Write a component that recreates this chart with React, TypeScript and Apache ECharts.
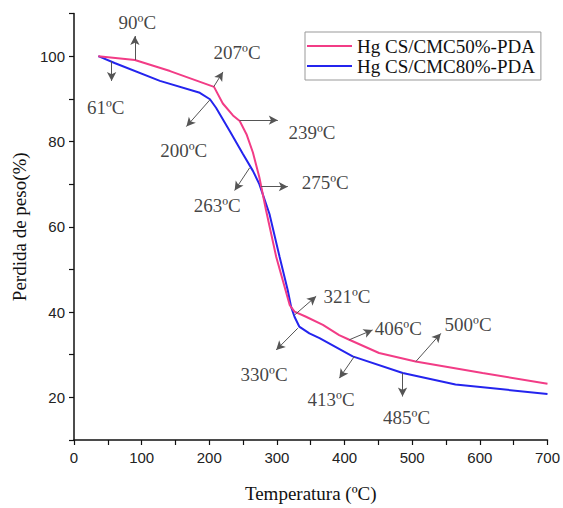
import React, { useEffect, useRef } from "react";
import * as echarts from "echarts";

const seriesNames = ["Hg CS/CMC50%-PDA", "Hg CS/CMC80%-PDA"];

const pinkData: [number, number][] = [
  [36, 100], [90, 99.1], [142, 96.5], [207, 92.8], [220, 88.9], [235, 86.1],
  [245, 84.8], [255, 81.7], [264.5, 77.4], [274, 71.6], [284, 63.8], [299, 52.9],
  [314, 44.4], [319, 41.6], [326, 40.1], [343, 38.9], [368, 37], [392, 34.6],
  [407, 33.5], [451, 30.4], [505, 28.4], [604, 25.7], [700, 23.2],
];

const blueData: [number, number][] = [
  [36, 100], [60, 98.4], [127, 94.2], [186, 91.4], [201, 89.9], [210, 87.9],
  [230, 82.5], [250, 77], [264.5, 73.1], [274, 70], [289, 63], [304, 52.9],
  [316, 45.1], [321, 41.2], [326, 38.9], [333, 36.6], [348, 35], [363, 33.9],
  [412, 29.6], [486, 25.7], [564, 23], [700, 20.8],
];

const arrowLines: [[number, number], [number, number]][] = [
  [[90, 99.1], [90, 104.7]],
  [[55.6, 98.8], [55.6, 94.2]],
  [[206.5, 92.8], [220.2, 96.3]],
  [[200.6, 89.7], [166.2, 83.5]],
  [[244.8, 85], [301.3, 85]],
  [[259.6, 73.8], [237.5, 68.5]],
  [[276.8, 69.4], [316.1, 69.4]],
  [[326, 39.3], [358, 43.7]],
  [[330.8, 36.2], [298.9, 31.1]],
  [[407, 33.5], [441.4, 35.8]],
  [[414.5, 29.6], [392.3, 24.5]],
  [[505.4, 28.4], [542.3, 35]],
  [[485.7, 25.7], [485.7, 20.2]],
];

const annotationLabels: [number, number, string][] = [
  [93.7, 108, "90ºC"],
  [46.9, 87.9, "61ºC"],
  [241.2, 100.8, "207ºC"],
  [162.2, 77.8, "200ºC"],
  [351.8, 82.1, "239ºC"],
  [211.7, 65, "263ºC"],
  [371.4, 70.4, "275ºC"],
  [403.5, 43.7, "321ºC"],
  [281, 25.3, "330ºC"],
  [479.4, 36.2, "406ºC"],
  [380, 19.4, "413ºC"],
  [582.6, 37, "500ºC"],
  [491.6, 15.2, "485ºC"],
];

const serif = "'Liberation Serif', 'Times New Roman', serif";
const sans = "'Liberation Sans', Arial, sans-serif";

export default function App() {
  const ref = useRef<HTMLDivElement>(null);
  useEffect(() => {
    if (!ref.current) return;
    const chart = echarts.init(ref.current, null, { renderer: "svg" });
    chart.setOption({
      animation: false,
      backgroundColor: "#fff",
      grid: { left: 74, right: 14.5, top: 13.5, bottom: 67.5, containLabel: false },
      legend: {
        data: seriesNames,
        orient: "vertical",
        left: 305,
        top: 32,
        icon: "rect",
        itemWidth: 45,
        itemHeight: 2,
        itemGap: 0,
        padding: [4, 6, 4, 2],
        borderColor: "#999",
        borderWidth: 1,
        textStyle: { fontFamily: serif, fontSize: 19, color: "#111", lineHeight: 20 },
      },
      xAxis: {
        type: "value",
        min: 0,
        max: 700,
        interval: 50,
        name: "Temperatura (ºC)",
        nameLocation: "middle",
        nameGap: 44,
        nameTextStyle: { fontFamily: serif, fontSize: 19, color: "#111" },
        axisLine: { lineStyle: { color: "#111", width: 1.5 } },
        axisTick: { show: true, inside: false, length: 5, lineStyle: { color: "#111", width: 1.2 } },
        axisLabel: {
          fontFamily: sans,
          fontSize: 15,
          color: "#222",
          margin: 10,
          formatter: (v: number) => (v % 100 === 0 ? String(v) : ""),
        },
        splitLine: { show: false },
      },
      yAxis: {
        type: "value",
        min: 10,
        max: 110,
        interval: 10,
        name: "Perdida de peso(%)",
        nameLocation: "middle",
        nameGap: 42,
        nameTextStyle: { fontFamily: serif, fontSize: 19, color: "#111" },
        axisLine: { show: true, lineStyle: { color: "#111", width: 1.5 } },
        axisTick: { show: true, inside: false, length: 5, lineStyle: { color: "#111", width: 1.2 } },
        axisLabel: {
          fontFamily: sans,
          fontSize: 15,
          color: "#222",
          margin: 9,
          formatter: (v: number) => (v % 20 === 0 && v <= 100 ? String(v) : ""),
        },
        splitLine: { show: false },
      },
      series: [
        {
          name: seriesNames[0],
          type: "line",
          data: pinkData,
          symbol: "none",
          lineStyle: { color: "#f23c86", width: 2 },
          itemStyle: { color: "#f23c86" },
          z: 3,
        },
        {
          name: seriesNames[1],
          type: "line",
          data: blueData,
          symbol: "none",
          lineStyle: { color: "#2424ee", width: 2 },
          itemStyle: { color: "#2424ee" },
          z: 2,
        },
        {
          name: "annotations",
          type: "scatter",
          data: annotationLabels.map((a) => [a[0], a[1], a[2]]),
          symbolSize: 0,
          silent: true,
          label: {
            show: true,
            position: "inside",
            formatter: (p: any) => p.data[2],
            fontFamily: serif,
            fontSize: 19,
            color: "#111",
          },
          markLine: {
            silent: true,
            symbol: ["none", "arrow"],
            symbolSize: [7, 9],
            label: { show: false },
            lineStyle: { color: "#555", width: 1, type: "solid" },
            data: arrowLines.map((l) => [{ coord: l[0] }, { coord: l[1] }]),
          },
          z: 5,
        },
      ],
    });
    return () => chart.dispose();
  }, []);
  return (
    <div
      ref={ref}
      style={{ position: "fixed", left: 0, top: 0, width: 563, height: 508 }}
    />
  );
}
